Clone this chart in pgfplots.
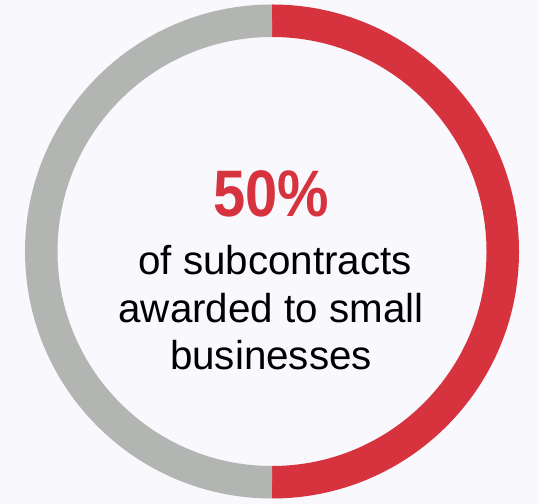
\documentclass[border=0pt]{standalone}
\usepackage{pgfplots}
\pgfplotsset{compat=1.18}
\usepackage{pgfplotstable}
\usepackage{fontspec}
\setmainfont{Liberation Sans}
\definecolor{bg}{HTML}{F8F8FD}
\definecolor{donutred}{HTML}{D6333F}
\definecolor{donutgray}{HTML}{B3B5B3}
\pgfplotstableread{
label value
small 50
other 50
}\sharedata
\begin{document}
\begin{tikzpicture}
\pgfplotstablegetelem{0}{value}\of\sharedata \let\vsmall\pgfplotsretval
\pgfplotstablegetelem{1}{value}\of\sharedata \let\vother\pgfplotsretval
\pgfmathsetmacro{\frac}{\vsmall/(\vsmall+\vother)}
\pgfmathsetmacro{\aend}{90-360*\frac}
\begin{axis}[x=1bp,y=1bp,xmin=0,xmax=538,ymin=0,ymax=504,hide axis,clip=false]
\fill[bg] (axis cs:0,0) rectangle (axis cs:538,504);
\draw[donutred, line width=32.5bp] (axis cs:272,252.5) ++(90:230.75bp) arc[start angle=90, end angle=\aend, radius=230.75bp];
\draw[donutgray, line width=32.5bp] (axis cs:272,252.5) ++(\aend:230.75bp) arc[start angle=\aend, end angle=-270, radius=230.75bp];
\node[anchor=base, text=donutred, font=\fontsize{66}{66}\selectfont\bfseries, inner sep=0pt] at (axis cs:271,287) {\scalebox{0.88}[1]{50\%}};
\node[anchor=base, font=\fontsize{40.5}{40.5}\selectfont, inner sep=0pt] at (axis cs:275,229) {of subcontracts};
\node[anchor=base, font=\fontsize{40.5}{40.5}\selectfont, inner sep=0pt] at (axis cs:271,181) {awarded to small};
\node[anchor=base, font=\fontsize{40.5}{40.5}\selectfont, inner sep=0pt] at (axis cs:271,134) {businesses};
\end{axis}
\end{tikzpicture}
\end{document}
